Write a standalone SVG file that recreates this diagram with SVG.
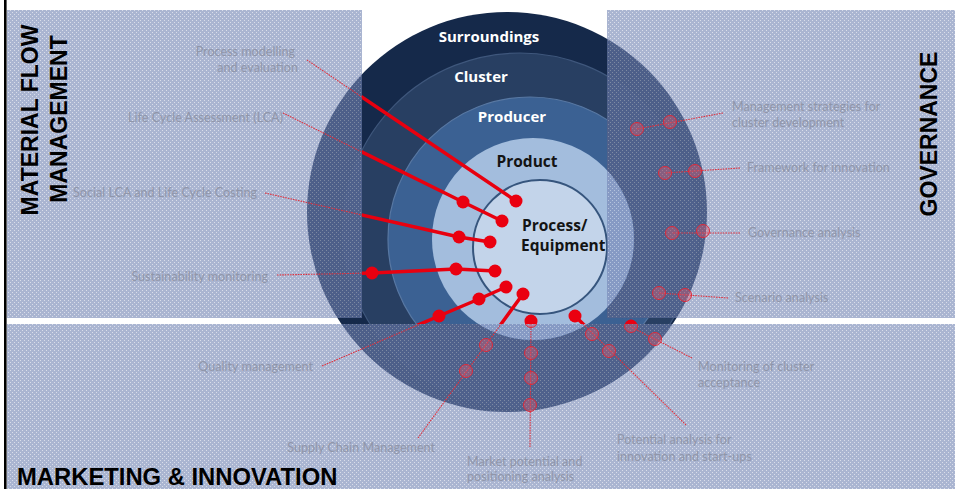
<svg xmlns="http://www.w3.org/2000/svg" xmlns:xlink="http://www.w3.org/1999/xlink" width="955" height="489" viewBox="0 0 955 489">
<defs>
<style>
.lbl{font-family:Lato,"Open Sans","Liberation Sans",sans-serif;font-size:12.6px;fill:#9096a9}
.title{font-family:"Liberation Sans",Arial,sans-serif;font-weight:bold;font-size:23px;fill:#000}
.ring{font-family:"Open Sans","Liberation Sans",sans-serif;font-weight:bold;font-size:15px;fill:#fff}
.core{font-family:"Open Sans","Liberation Sans",sans-serif;font-weight:bold;font-size:15.5px;fill:#141414}
.thick{stroke:#e8000f;stroke-width:3.5;fill:none;stroke-linecap:round;stroke-linejoin:round}
.thin{stroke:#e0303c;stroke-width:1.1;fill:none;stroke-dasharray:1.6 1}
.dot{fill:#ea0010}
.fdot{fill:#f05a6a;fill-opacity:0.35;stroke:#e02838;stroke-width:1}
.pan{fill:#7384b4}
.tex{fill:url(#tex)}
</style>
<pattern id="tex" width="4" height="4" patternUnits="userSpaceOnUse">
<rect x="0" y="0" width="1" height="1" fill="#fff" fill-opacity="0.55"/>
<rect x="2" y="2" width="1" height="1" fill="#fff" fill-opacity="0.55"/>
</pattern>
<clipPath id="win"><rect x="362" y="0" width="245" height="318"/><rect x="0" y="318" width="955" height="6"/></clipPath>
<clipPath id="pan"><rect x="7" y="10" width="355" height="308"/><rect x="607" y="10" width="348" height="308"/><rect x="7" y="324" width="948" height="165"/></clipPath>
<path id="c1" d="M307 60 L516 201"/>
<path id="c2" d="M283 113 L463 202 L502 221"/>
<path id="c3" d="M265 193 L459 237 L490 242"/>
<path id="c4" d="M277 275 L372 273 L456 269 L495 271"/>
<path id="c5" d="M322 366 L439 316 L479 299 L506 287"/>
<path id="c6" d="M418 438 L523 294"/>
<path id="c7" d="M530 447 L531 321"/>
<path id="c8" d="M686 425 L575 316"/>
<path id="c9" d="M692 358 L631 327"/>
<path id="c10" d="M723 113 L637 129"/>
<path id="c11" d="M740 168 L665 173"/>
<path id="c12" d="M740 233 L672 233"/>
<path id="c13" d="M728 298 L659 293"/>
<g id="dots">
<circle cx="516" cy="201" r="6.5"/><circle cx="463" cy="202" r="6.5"/><circle cx="502" cy="221" r="6.5"/>
<circle cx="459" cy="237" r="6.5"/><circle cx="490" cy="242" r="6.5"/>
<circle cx="372" cy="273" r="6.5"/><circle cx="456" cy="269" r="6.5"/><circle cx="495" cy="271" r="6.5"/>
<circle cx="439" cy="316" r="6.5"/><circle cx="479" cy="299" r="6.5"/><circle cx="506" cy="287" r="6.5"/>
<circle cx="523" cy="294" r="6.5"/><circle cx="486" cy="345" r="6.5"/><circle cx="466" cy="371" r="6.5"/>
<circle cx="531" cy="321" r="6.5"/><circle cx="531" cy="353" r="6.5"/><circle cx="531" cy="378" r="6.5"/><circle cx="530" cy="405" r="6.5"/>
<circle cx="575" cy="316" r="6.5"/><circle cx="592" cy="334" r="6.5"/><circle cx="609" cy="351" r="6.5"/>
<circle cx="631" cy="326" r="6.5"/><circle cx="655" cy="339" r="6.5"/>
<circle cx="670" cy="122" r="6.5"/><circle cx="637" cy="129" r="6.5"/>
<circle cx="695" cy="171" r="6.5"/><circle cx="665" cy="173" r="6.5"/>
<circle cx="703" cy="231" r="6.5"/><circle cx="672" cy="233" r="6.5"/>
<circle cx="685" cy="295" r="6.5"/><circle cx="659" cy="293" r="6.5"/>
</g>
</defs>

<rect width="955" height="489" fill="#fff"/>

<g id="onion">
<g id="surroundings"><circle cx="507" cy="212" r="200" fill="#15294a"/><text class="ring" x="489" y="42" text-anchor="middle">Surroundings</text></g>
<g id="cluster"><circle cx="520" cy="230" r="177" fill="#283f62" stroke="#3f577c" stroke-width="1.2"/><text class="ring" x="481" y="82" text-anchor="middle">Cluster</text></g>
<g id="producer"><circle cx="530" cy="239" r="142" fill="#3b6193" stroke="#5878a3" stroke-width="1.2"/><text class="ring" x="512" y="122" text-anchor="middle">Producer</text></g>
<g id="hidden-rings" clip-path="url(#pan)"><path fill="#1a2e50" fill-rule="evenodd" d="M342 230 a178 178 0 1 0 356 0 a178 178 0 1 0 -356 0 Z M432 239 a101 101 0 1 0 202 0 a101 101 0 1 0 -202 0 Z"/></g>
<g id="product"><circle cx="533" cy="239" r="101" fill="#a3bddd"/><text class="core" x="527" y="167" text-anchor="middle">Product</text></g>
<g id="process"><circle cx="540" cy="247" r="67" fill="#c3d4ea" stroke="#36557d" stroke-width="2"/><text class="core" x="522" y="231">Process/</text><text class="core" x="521" y="251">Equipment</text></g>
</g>

<g id="panels" opacity="0.6">
<g id="panel-left"><rect class="pan" x="7" y="10" width="355" height="308"/><rect class="tex" x="7" y="10" width="355" height="308"/></g>
<g id="panel-right"><rect class="pan" x="607" y="10" width="348" height="308"/><rect class="tex" x="607" y="10" width="348" height="308"/></g>
<g id="panel-bottom"><rect class="pan" x="7" y="324" width="948" height="165"/><rect class="tex" x="7" y="324" width="948" height="165"/></g>
</g>

<rect x="4" y="0" width="2.6" height="489" fill="#000"/>

<g id="connectors">
<g clip-path="url(#pan)">
<g class="thin">
<use xlink:href="#c1"/><use xlink:href="#c2"/><use xlink:href="#c3"/><use xlink:href="#c4"/><use xlink:href="#c5"/><use xlink:href="#c6"/><use xlink:href="#c7"/><use xlink:href="#c8"/><use xlink:href="#c9"/><use xlink:href="#c10"/><use xlink:href="#c11"/><use xlink:href="#c12"/><use xlink:href="#c13"/>
</g>
<use xlink:href="#dots" class="fdot"/>
</g>
<g clip-path="url(#win)">
<g class="thick">
<use xlink:href="#c1"/><use xlink:href="#c2"/><use xlink:href="#c3"/><use xlink:href="#c4"/><use xlink:href="#c5"/><use xlink:href="#c6"/><use xlink:href="#c7"/><use xlink:href="#c8"/><use xlink:href="#c9"/>
</g>
<use xlink:href="#dots" class="dot"/>
</g>
</g>

<g id="titles">
<text class="title" transform="translate(38,120) rotate(-90)" text-anchor="middle">MATERIAL FLOW</text>
<text class="title" transform="translate(67,119) rotate(-90)" text-anchor="middle">MANAGEMENT</text>
<text class="title" transform="translate(937,134) rotate(-90)" text-anchor="middle">GOVERNANCE</text>
<text class="title" x="17" y="485" style="font-size:23.8px">MARKETING &amp; INNOVATION</text>
</g>

<g id="labels">
<g id="l-process-modelling"><text class="lbl" x="295" y="56" text-anchor="end">Process modelling</text><text class="lbl" x="298" y="72" text-anchor="end">and evaluation</text></g>
<g id="l-lca"><text class="lbl" x="283" y="122" text-anchor="end">Life Cycle Assessment (LCA)</text></g>
<g id="l-social-lca"><text class="lbl" x="257" y="197" text-anchor="end">Social LCA and Life Cycle Costing</text></g>
<g id="l-sustainability"><text class="lbl" x="268" y="281" text-anchor="end">Sustainability monitoring</text></g>
<g id="l-quality"><text class="lbl" x="313" y="371" text-anchor="end">Quality management</text></g>
<g id="l-supply"><text class="lbl" x="435" y="452" text-anchor="end">Supply Chain Management</text></g>
<g id="l-market"><text class="lbl" x="467" y="466">Market potential and</text><text class="lbl" x="467" y="481">positioning analysis</text></g>
<g id="l-potential"><text class="lbl" x="617" y="444">Potential analysis for</text><text class="lbl" x="617" y="461">innovation and start-ups</text></g>
<g id="l-monitoring"><text class="lbl" x="698" y="371">Monitoring of cluster</text><text class="lbl" x="698" y="387">acceptance</text></g>
<g id="l-management"><text class="lbl" x="732" y="111">Management strategies for</text><text class="lbl" x="732" y="127">cluster development</text></g>
<g id="l-framework"><text class="lbl" x="747" y="172">Framework for innovation</text></g>
<g id="l-governance"><text class="lbl" x="748" y="237">Governance analysis</text></g>
<g id="l-scenario"><text class="lbl" x="735" y="302">Scenario analysis</text></g>
</g>
</svg>
